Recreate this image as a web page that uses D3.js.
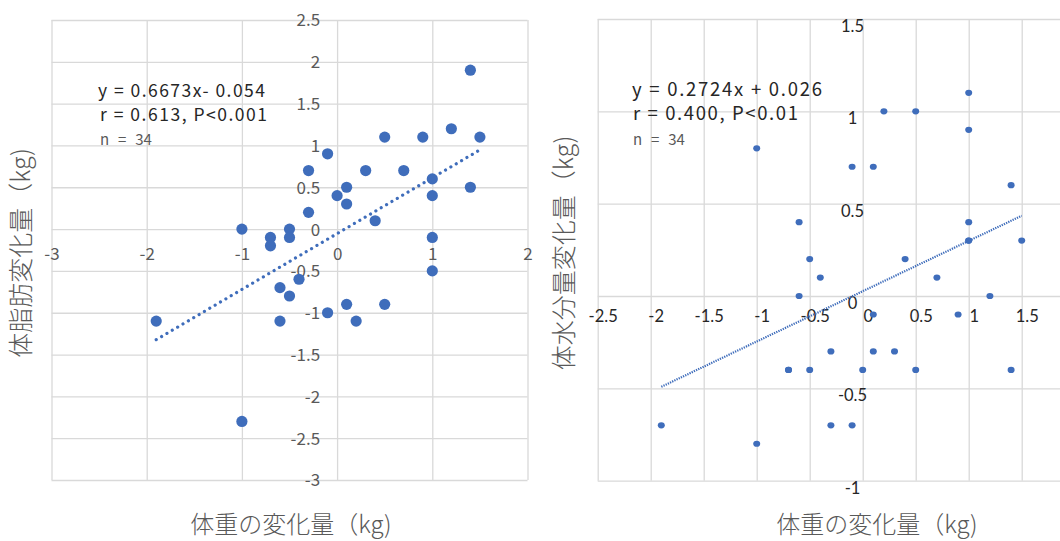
<!DOCTYPE html>
<html>
<head>
<meta charset="utf-8">
<script src="https://cdn.jsdelivr.net/npm/d3@7/dist/d3.min.js"></script>
<style>
  html, body { margin: 0; padding: 0; background: #fff; overflow: hidden; }
  svg { display: block; }
</style>
</head>
<body>
<svg id="chart" width="1060" height="541"></svg>
<script>
// ---------- Data ----------
// Left chart: body weight change (x) vs body fat change (y)
const fatX = [1.4, 0.5, 0.9, 1.2, 1.5, -0.1, -0.3, 0.3, 0.7, 1.0, 1.4, 0.1, 0.0, 0.1, 1.0, -0.3, 0.4,
              -1.0, -0.5, -0.7, -0.5, 1.0, -0.7, 1.0, -0.4, -0.6, -0.5, 0.1, 0.5, -0.1, 0.2, -0.6, -1.9, -1.0];
const fatY = [1.9, 1.1, 1.1, 1.2, 1.1, 0.9, 0.7, 0.7, 0.7, 0.6, 0.5, 0.5, 0.4, 0.3, 0.4, 0.2, 0.1,
              0.0, 0.0, -0.1, -0.1, -0.1, -0.2, -0.5, -0.6, -0.7, -0.8, -0.9, -0.9, -1.0, -1.1, -1.1, -1.1, -2.3];
// Right chart: body weight change (x) vs body water change (y)
const waterX = [1.0, 0.2, 0.5, 1.0, -1.0, -0.1, 0.1, 1.4, -0.6, 1.0, 1.0, 1.0, 1.5, -0.5, 0.4, -0.4, 0.7,
                -0.6, 1.2, 0.1, 0.9, -0.3, 0.1, 0.3, -0.7, -0.7, -0.5, 0.0, 0.5, 1.4, -1.9, -0.3, -0.1, -1.0];
const waterY = [1.1, 1.0, 1.0, 0.9, 0.8, 0.7, 0.7, 0.6, 0.4, 0.4, 0.3, 0.3, 0.3, 0.2, 0.2, 0.1, 0.1,
                0.0, 0.0, -0.1, -0.1, -0.3, -0.3, -0.3, -0.4, -0.4, -0.4, -0.4, -0.4, -0.4, -0.7, -0.7, -0.7, -0.8];

// Trend lines
const fatTrend = { slope: 0.6673, intercept: -0.054, from: -1.9, to: 1.5 };
const waterTrend = { slope: 0.2724, intercept: 0.026, from: -1.9, to: 1.5 };

// Tick values / labels
const fatXTicks = [-3, -2, -1, 0, 1, 2];
const fatYTicks = [-3, -2.5, -2, -1.5, -1, -0.5, 0, 0.5, 1, 1.5, 2, 2.5];
const waterXTicks = [-2.5, -2, -1.5, -1, -0.5, 0, 0.5, 1, 1.5];
const waterXGrid = [-2.5, -2, -1.5, -1, -0.5, 0, 0.5, 1, 1.5, 2];
const waterYTicks = [-1, -0.5, 0, 0.5, 1, 1.5];

// Texts
const fatAnno = ["y = 0.6673x- 0.054", "r = 0.613, P<0.001", "n = 34"];
const waterAnno = ["y = 0.2724x + 0.026", "r = 0.400, P<0.01", "n = 34"];
const fatYTitle = "体脂肪変化量（kg)";
const waterYTitle = "体水分量変化量（kg)";
const xTitle = "体重の変化量（kg)";

// ---------- Drawing ----------
const svg = d3.select("#chart");
const GRID = "#d9d9d9";
const DOT = "#3f6dbb";
const JP = "'Noto Sans CJK JP', 'Noto Sans', sans-serif";
const fmt = d => String(d);

function annotate(g, x, y, str, size, color, width) {
  g.append("text").attr("x", x).attr("y", y).attr("font-size", size).attr("fill", color)
    .attr("textLength", width).attr("lengthAdjust", "spacing").text(str);
}
function nLabel(g, x, y, str) {
  g.append("text").attr("x", x).attr("y", y).attr("font-size", 15).attr("fill", "#595959")
    .attr("font-weight", 400).attr("word-spacing", 5.5).text(str);
}

// ===== Left chart =====
const lx = d3.scaleLinear().domain([-3, 2]).range([51.5, 527.5]);
const ly = d3.scaleLinear().domain([-3, 2.5]).range([480, 20]);

const L = svg.append("g");
// gridlines
L.append("g").attr("transform", `translate(0,${ly(-3)})`)
  .call(d3.axisBottom(lx).tickValues(fatXTicks).tickSize(-(ly(-3) - ly(2.5))).tickFormat(""))
  .call(g => g.select(".domain").remove())
  .call(g => g.selectAll("line").attr("stroke", GRID).attr("stroke-width", 1.3));
L.append("g").attr("transform", `translate(${lx(-3)},0)`)
  .call(d3.axisLeft(ly).tickValues(fatYTicks).tickSize(-(lx(2) - lx(-3))).tickFormat(""))
  .call(g => g.select(".domain").remove())
  .call(g => g.selectAll("line").attr("stroke", GRID).attr("stroke-width", 1.3));

// tick labels
L.append("g").attr("transform", `translate(0,${ly(0)})`)
  .call(d3.axisBottom(lx).tickValues(fatXTicks).tickSize(0).tickFormat(fmt))
  .call(g => g.select(".domain").remove())
  .call(g => g.selectAll("text").attr("y", 25).attr("dy", "0.35em")
      .attr("font-family", JP).attr("font-weight", 400).attr("font-size", 17).attr("fill", "#595959"));
L.append("g").attr("transform", `translate(${lx(0)},0)`)
  .call(d3.axisLeft(ly).tickValues(fatYTicks).tickSize(0).tickFormat(fmt))
  .call(g => g.select(".domain").remove())
  .call(g => g.selectAll("text").attr("x", -17).attr("dy", "0.35em")
      .attr("font-family", JP).attr("font-weight", 400).attr("font-size", 17).attr("fill", "#595959"));

// trend line
L.append("line")
  .attr("x1", lx(fatTrend.from)).attr("y1", ly(fatTrend.slope * fatTrend.from + fatTrend.intercept))
  .attr("x2", lx(fatTrend.to)).attr("y2", ly(fatTrend.slope * fatTrend.to + fatTrend.intercept))
  .attr("stroke", DOT).attr("stroke-width", 3.2).attr("stroke-linecap", "round")
  .attr("stroke-dasharray", "0.01 6.2");

// points
L.append("g").selectAll("circle").data(fatX.map((x, i) => [x, fatY[i]])).join("circle")
  .attr("cx", d => lx(d[0])).attr("cy", d => ly(d[1])).attr("r", 5.6).attr("fill", DOT);

// annotation
const la = L.append("g").attr("font-family", JP);
annotate(la, 98, 97, fatAnno[0], 17.5, "#262626", 167);
annotate(la, 100, 121, fatAnno[1], 17.5, "#262626", 167);
nLabel(la, 100, 145, fatAnno[2]);

// axis titles
L.append("text").attr("transform", "translate(19,253) rotate(-90)")
  .attr("text-anchor", "middle").attr("dominant-baseline", "central")
  .attr("font-family", JP).attr("font-weight", 300).attr("font-size", 25).attr("fill", "#595959").text(fatYTitle);
L.append("text").attr("x", 291).attr("y", 533)
  .attr("text-anchor", "middle")
  .attr("font-family", JP).attr("font-weight", 300).attr("font-size", 24).attr("fill", "#595959").text(xTitle);

// ===== Right chart =====
const rx = d3.scaleLinear().domain([-2.5, 2]).range([597.7, 1074.7]);
const ry = d3.scaleLinear().domain([-1, 1.5]).range([480.7, 19]);

const R = svg.append("g");
R.append("g").attr("transform", `translate(0,${ry(-1)})`)
  .call(d3.axisBottom(rx).tickValues(waterXGrid).tickSize(-(ry(-1) - ry(1.5))).tickFormat(""))
  .call(g => g.select(".domain").remove())
  .call(g => g.selectAll("line").attr("stroke", GRID).attr("stroke-width", 1.3));
R.append("g").attr("transform", `translate(${rx(-2.5)},0)`)
  .call(d3.axisLeft(ry).tickValues(waterYTicks).tickSize(-(rx(2) - rx(-2.5))).tickFormat(""))
  .call(g => g.select(".domain").remove())
  .call(g => g.selectAll("line").attr("stroke", GRID).attr("stroke-width", 1.3));

R.append("g").attr("transform", `translate(0,${ry(0)})`)
  .call(d3.axisBottom(rx).tickValues(waterXTicks).tickSize(0).tickFormat(fmt))
  .call(g => g.select(".domain").remove())
  .call(g => g.selectAll("text").attr("x", 5).attr("y", 26).attr("dy", 0)
      .attr("font-family", "Lato, sans-serif").attr("font-size", 16.5).attr("fill", "#262626"));
R.append("g").attr("transform", `translate(852.5,0)`)
  .call(d3.axisRight(ry).tickValues(waterYTicks).tickSize(0).tickFormat(fmt))
  .call(g => g.select(".domain").remove())
  .call(g => g.selectAll("text").attr("x", 0).attr("y", 12.5).attr("dy", 0).attr("text-anchor", "middle")
      .attr("font-family", "Lato, sans-serif").attr("font-size", 16.5).attr("fill", "#262626"));

R.append("line")
  .attr("x1", rx(waterTrend.from)).attr("y1", ry(waterTrend.slope * waterTrend.from + waterTrend.intercept))
  .attr("x2", rx(waterTrend.to)).attr("y2", ry(waterTrend.slope * waterTrend.to + waterTrend.intercept))
  .attr("stroke", DOT).attr("stroke-width", 2.2).attr("stroke-dasharray", "1.3 1.1");

R.append("g").selectAll("ellipse").data(waterX.map((x, i) => [x, waterY[i]])).join("ellipse")
  .attr("cx", d => rx(d[0])).attr("cy", d => ry(d[1])).attr("rx", 3.5).attr("ry", 3.1).attr("fill", DOT);

const ra = R.append("g").attr("font-family", JP);
annotate(ra, 632, 96, waterAnno[0], 18.5, "#262626", 190);
annotate(ra, 633, 120, waterAnno[1], 18.5, "#262626", 165);
nLabel(ra, 633, 145, waterAnno[2]);

R.append("text").attr("transform", "translate(562,253) rotate(-90)")
  .attr("text-anchor", "middle").attr("dominant-baseline", "central")
  .attr("font-family", JP).attr("font-weight", 300).attr("font-size", 25).attr("fill", "#595959").text(waterYTitle);
R.append("text").attr("x", 877).attr("y", 533)
  .attr("text-anchor", "middle")
  .attr("font-family", JP).attr("font-weight", 300).attr("font-size", 24).attr("fill", "#595959").text(xTitle);
</script>
</body>
</html>
